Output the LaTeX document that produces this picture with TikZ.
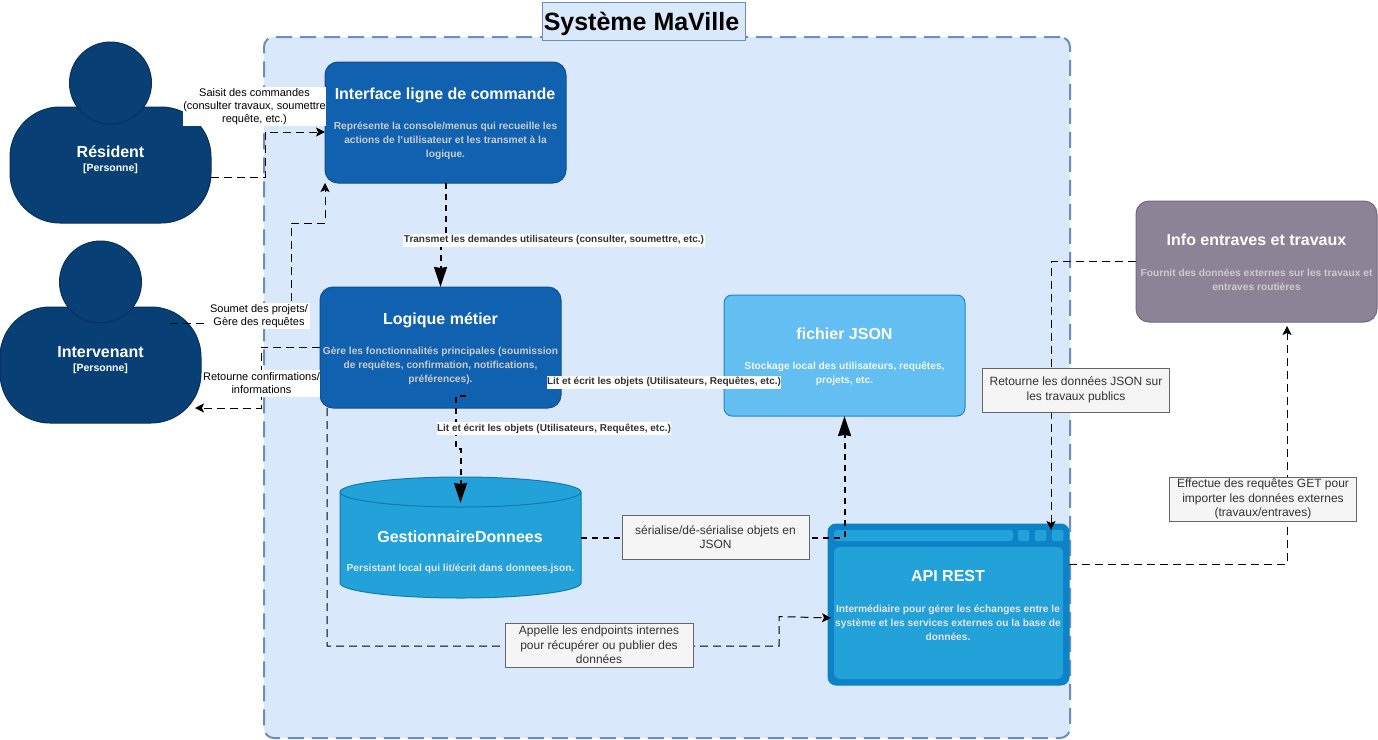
\documentclass[tikz,border=0pt]{standalone}
\usepackage{fontspec}
\setmainfont{Liberation Sans}
\usetikzlibrary{arrows.meta,calc}
\definecolor{contFill}{HTML}{DAE8FC}
\definecolor{contLine}{HTML}{6C8EBF}
\definecolor{persFill}{HTML}{083F75}
\definecolor{persLine}{HTML}{06315C}
\definecolor{sysFill}{HTML}{1061B0}
\definecolor{sysLine}{HTML}{0D5091}
\definecolor{jsonFill}{HTML}{63BEF2}
\definecolor{jsonLine}{HTML}{2086C9}
\definecolor{extFill}{HTML}{8C8496}
\definecolor{extLine}{HTML}{736782}
\definecolor{dbFill}{HTML}{23A2D9}
\definecolor{dbLine}{HTML}{0E7DAD}
\definecolor{apiOut}{HTML}{0E82C6}
\definecolor{descGrey}{HTML}{CCCCCC}
\definecolor{noteFill}{HTML}{F5F5F5}
\definecolor{noteLine}{HTML}{666666}
\definecolor{noteText}{HTML}{333333}
\tikzset{
  box/.style={draw,line width=1pt,inner sep=0pt,outer sep=0pt,rounded corners=#1},
  sizeto/.style n args={2}{minimum width=#1 pt,minimum height=#2 pt},
  personbody/.style={box=50pt,fill=persFill,draw=persLine},
  personhead/.style={draw=persLine,fill=persFill,line width=1pt,circle,minimum size=82pt,inner sep=0pt,outer sep=0pt},
  comp/.style={box=13pt,fill=sysFill,draw=sysLine},
  jsonbox/.style={box=8pt,fill=jsonFill,draw=jsonLine},
  extbox/.style={box=13pt,fill=extFill,draw=extLine},
  titletext/.style={text=white,font=\bfseries\fontsize{16}{19}\selectfont,inner sep=0pt},
  subtext/.style={text=white,font=\bfseries\fontsize{10.5}{13}\selectfont,inner sep=0pt},
  desctext/.style={text=descGrey,font=\bfseries\fontsize{10.2}{14}\selectfont,align=center,inner sep=0pt},
  conn/.style={draw=black,line width=1pt,dash pattern=on 8pt off 5pt,-{Stealth[length=9pt,width=9pt,inset=2pt]}},
  thickconn/.style={draw=black,line width=2pt,dash pattern=on 6pt off 5pt,-{Stealth[length=20pt,width=13pt,inset=1pt]}},
  whitelab/.style={fill=white,inner sep=0pt,align=center,text=black,font=\fontsize{11}{13}\selectfont},
  boldlab/.style={fill=white,inner sep=0pt,align=center,text=noteText,font=\bfseries\fontsize{10}{12}\selectfont},
  notebox/.style={fill=noteFill,draw=noteLine,line width=1pt,inner sep=0pt,align=center,text=noteText,font=\fontsize{12}{14.6}\selectfont},
}
\begin{document}
\begin{tikzpicture}[x=1pt,y=-1pt]
\useasboundingbox (0,0) rectangle (1378,739);
\fill[white] (0,0) rectangle (1378,739);
% container
\node[name=cont,sizeto={806}{701},fill=contFill,draw=contLine,line width=2pt,dash pattern=on 16pt off 8pt,rounded corners=10pt,inner sep=0pt] at (667,387.5) {};
\node[name=sysBox,sizeto={203}{38},fill=contFill,draw=contLine,line width=1pt,inner sep=0pt] at (643.5,21) {};
\node[name=sysTitle,inner sep=0pt,text=black,font=\bfseries\fontsize{25}{28}\selectfont] at (641.5,24) {Système MaVille};
% persons
\node[name=resBody,personbody,sizeto={201}{116}] at (110.5,165) {};
\node[name=resHead,personhead] at (110.5,83) {};
\node[name=resTitle,titletext] at (110.5,152) {Résident};
\node[name=resSub,subtext] at (110.5,169) {[Personne]};
\node[name=intBody,personbody,sizeto={201}{116}] at (100.5,365) {};
\node[name=intHead,personhead] at (100.5,282) {};
\node[name=intTitle,titletext] at (100.5,352) {Intervenant};
\node[name=intSub,subtext] at (100.5,369) {[Personne]};
% interface
\node[name=iface,comp,sizeto={241}{121}] at (445.5,122.5) {};
\node[name=ifaceTitle,titletext] at (445,95) {Interface ligne de commande};
\node[name=ifaceDesc,desctext] at (445.5,141) {Représente la console/menus qui recueille les\\actions de l'utilisateur et les transmet à la\\logique.};
% logique
\node[name=logic,comp,sizeto={241}{121}] at (440.5,347.5) {};
\node[name=logicTitle,titletext] at (440.5,320) {Logique métier};
\node[name=logicDesc,desctext] at (440.5,366) {Gère les fonctionnalités principales (soumission\\de requêtes, confirmation, notifications,\\préférences).};
% json
\node[name=json,jsonbox,sizeto={241}{121}] at (844.5,355.5) {};
\node[name=jsonTitle,titletext] at (844.5,334) {fichier JSON};
\node[name=jsonDesc,desctext,text=white!96!black] at (844.5,373.5) {Stockage local des utilisateurs, requêtes,\\projets, etc.};
% info
\node[name=info,extbox,sizeto={241}{121}] at (1256.5,261.5) {};
\node[name=infoTitle,titletext] at (1256.5,240) {Info entraves et travaux};
\node[name=infoDesc,desctext] at (1256.5,279.5) {Fournit des données externes sur les travaux et\\entraves routières};
% cylinder
\node[name=gest,sizeto={241}{121},inner sep=0pt,outer sep=0pt] at (460.5,537.5) {};
\path[draw=dbLine,fill=dbFill,line width=1pt] (340,492) .. controls (340,484) and (394,477) .. (460.5,477) .. controls (527,477) and (581,484) .. (581,492) -- (581,583) .. controls (581,591) and (527,598) .. (460.5,598) .. controls (394,598) and (340,591) .. (340,583) -- cycle;
\path[draw=dbLine,line width=1pt] (340,492) .. controls (340,500) and (394,507) .. (460.5,507) .. controls (527,507) and (581,500) .. (581,492);
\node[name=gestTitle,titletext] at (460,537) {GestionnaireDonnees};
\node[name=gestDesc,desctext,text=white!90!black] at (460.5,569) {Persistant local qui lit/écrit dans donnees.json.};
% api
\node[name=api,box=8pt,fill=apiOut,draw=apiOut,sizeto={241}{161}] at (948.5,604.5) {};
\node[name=apiInner,box=6pt,fill=dbFill,draw=none,sizeto={229}{132}] at (948.5,613) {};
\node[name=apiBar,box=3pt,fill=dbFill,draw=none,sizeto={179}{11}] at (923.5,535.5) {};
\node[name=apiBtnA,box=2pt,fill=dbFill,draw=none,sizeto={11.5}{11}] at (1023.7,535.5) {};
\node[name=apiBtnB,box=2pt,fill=dbFill,draw=none,sizeto={11.5}{11}] at (1040.7,535.5) {};
\node[name=apiBtnC,box=2pt,fill=dbFill,draw=none,sizeto={11.5}{11}] at (1057.7,535.5) {};
\node[name=apiTitle,titletext] at (948,576) {API REST};
\node[name=apiDesc,desctext,text=white!90!black] at (948,623) {Intermédiaire pour gérer les échanges entre le\\système et les services externes ou la base de\\données.};
% connectors
\draw[conn] ($(resBody.east)+(0,12)$) -- ++(54,0) |- ($(iface.west)+(0,9.5)$);
\draw[conn] ($(intBody.center)+(69.5,-42)$) -- ++(121,0) -- ++(0,-100) -- ++(34,0) -- (iface.south west);
\draw[conn] ($(logic.west)+(0,-0.5)$) -- ++(-59,0) -- ++(0,61) -- ($(intBody.east)+(-6,43)$);
\draw[thickconn] ($(iface.south)+(0.5,0)$) -- ++(0,57) -- ++(-5.5,0) -- (logic.north);
\draw[thickconn] ($(logic.south)+(25,-12)$) -- ++(-10,0) -- ++(0,53) -- ++(5,0) -- ($(gest.north)+(0,26)$);
\draw[thickconn] (gest.east) -| (json.south);
\draw[conn] ($(logic.south west)+(7,0)$) -- ++(0,238) -- ++(452,0) -- ++(0,-29.5) -- ($(api.west)+(3,13.5)$);
\draw[conn] (info.west) -| ($(api.north east)+(-18,6)$);
\draw[conn] ($(api.east)+(0,-40.5)$) -| ($(info.south)+(30.5,4)$);
% labels
\node[name=labSaisit,whitelab,sizeto={143}{39}] at (254.5,106.5) {Saisit des commandes\\(consulter travaux, soumettre\\requête, etc.)};
\node[name=labSoumet,whitelab,sizeto={101}{26}] at (259,316) {Soumet des projets/\\Gère des requêtes};
\node[name=labRetourne,whitelab,sizeto={117}{27}] at (261.5,383.5) {Retourne confirmations/\\informations};
\node[name=labTransmet,boldlab,sizeto={302}{13}] at (554,240) {Transmet les demandes utilisateurs (consulter, soumettre, etc.)};
\node[name=labLit,boldlab,sizeto={234}{13}] at (554,428.5) {Lit et écrit les objets (Utilisateurs, Requêtes, etc.)};
\node[name=labLitJson,boldlab,sizeto={233}{13}] at (664,382) {Lit et écrit les objets (Utilisateurs, Requêtes, etc.)};
\node[name=noteSer,notebox,sizeto={187}{44}] at (715.5,537) {sérialise/dé-sérialise objets en\\JSON};
\node[name=noteApp,notebox,sizeto={188}{44}] at (599,645) {Appelle les endpoints internes\\pour récupérer ou publier des\\données};
\node[name=noteRet,notebox,sizeto={187}{44}] at (1076,390) {Retourne les données JSON sur\\les travaux publics};
\node[name=noteEff,notebox,sizeto={187}{44}] at (1263,499) {Effectue des requêtes GET pour\\importer les données externes\\(travaux/entraves)};
\end{tikzpicture}
\end{document}
